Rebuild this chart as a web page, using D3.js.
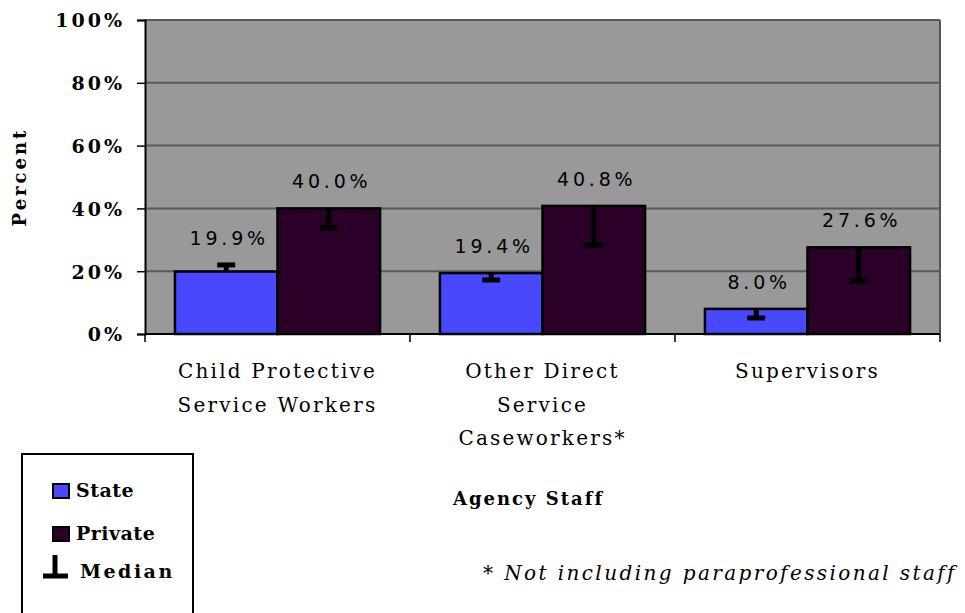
<!DOCTYPE html>
<meta charset="utf-8">
<style>
body { margin: 0; background: #fff; }
svg { display: block; }
text { fill: #000; }
.tick text { font-family: "DejaVu Serif", serif; font-weight: bold; font-size: 19px; letter-spacing: 3px; }
.grid line { stroke: #5a5a5a; stroke-width: 2; }
.val { font-family: "DejaVu Sans", sans-serif; font-size: 19px; letter-spacing: 3.8px; }
.cat { font-family: "DejaVu Serif", serif; font-size: 20px; letter-spacing: 2.2px; }
.leg { font-family: "DejaVu Serif", serif; font-weight: bold; font-size: 19px; }
</style>
<body>
<script src="https://d3js.org/d3.v7.min.js"></script>
<script>
// chart data
var categories = ["Child Protective Service Workers", "Other Direct Service Caseworkers*", "Supervisors"];
var categoryLines = [["Child Protective", "Service Workers"], ["Other Direct", "Service", "Caseworkers*"], ["Supervisors"]];
var series = ["State", "Private"];
var stateValues = [19.9, 19.4, 8.0];
var privateValues = [40.0, 40.8, 27.6];
var stateMedians = [22.0, 17.2, 5.1];
var privateMedians = [33.8, 28.3, 16.9];
var yTicks = [0, 20, 40, 60, 80, 100];

var colors = {State: "#4848ff", Private: "#2a0028"};

var W = 965, H = 613;
var plot = {left: 145, right: 940, top: 20, bottom: 334};

var svg = d3.select("body").append("svg")
    .attr("width", W)
    .attr("height", H);

var x0 = d3.scaleBand()
    .domain(categories)
    .range([plot.left, plot.right])
    .paddingInner(0.226)
    .paddingOuter(0.113);

var x1 = d3.scaleBand()
    .domain(series)
    .range([0, x0.bandwidth()]);

var y = d3.scaleLinear().domain([0, 100]).range([plot.bottom, plot.top]);

// plot background
svg.append("rect")
    .attr("x", plot.left).attr("y", plot.top)
    .attr("width", plot.right - plot.left).attr("height", plot.bottom - plot.top)
    .attr("fill", "#999999");

// gridlines
svg.append("g").attr("class", "grid")
    .selectAll("line")
    .data(yTicks.filter(function(d) { return d > 0; }))
    .enter().append("line")
    .attr("x1", plot.left).attr("x2", plot.right)
    .attr("y1", function(d) { return y(d); })
    .attr("y2", function(d) { return y(d); });

// right border
svg.append("line")
    .attr("x1", plot.right).attr("x2", plot.right)
    .attr("y1", plot.top).attr("y2", plot.bottom)
    .attr("stroke", "#555").attr("stroke-width", 2);

// bars
var rows = categories.map(function(c, i) {
    return [
        {cat: c, key: "State", value: stateValues[i], median: stateMedians[i]},
        {cat: c, key: "Private", value: privateValues[i], median: privateMedians[i]}
    ];
});
var flat = [].concat.apply([], rows);

svg.append("g").selectAll("rect")
    .data(flat)
    .enter().append("rect")
    .attr("x", function(d) { return x0(d.cat) + x1(d.key); })
    .attr("y", function(d) { return y(d.value); })
    .attr("width", x1.bandwidth())
    .attr("height", function(d) { return y(0) - y(d.value); })
    .attr("fill", function(d) { return colors[d.key]; })
    .attr("stroke", "#000")
    .attr("stroke-width", 2.5);

// median markers
var med = svg.append("g").selectAll("g")
    .data(flat)
    .enter().append("g");
med.append("line")
    .attr("x1", function(d) { return x0(d.cat) + x1(d.key) + x1.bandwidth() / 2; })
    .attr("x2", function(d) { return x0(d.cat) + x1(d.key) + x1.bandwidth() / 2; })
    .attr("y1", function(d) { return y(d.value); })
    .attr("y2", function(d) { return y(d.median); })
    .attr("stroke", "#000").attr("stroke-width", 5);
med.append("line")
    .attr("x1", function(d) { return x0(d.cat) + x1(d.key) + x1.bandwidth() / 2 - 9; })
    .attr("x2", function(d) { return x0(d.cat) + x1(d.key) + x1.bandwidth() / 2 + 9; })
    .attr("y1", function(d) { return y(d.median); })
    .attr("y2", function(d) { return y(d.median); })
    .attr("stroke", "#000").attr("stroke-width", 5);

// value labels
svg.append("g").selectAll("text")
    .data(flat)
    .enter().append("text")
    .attr("class", "val")
    .attr("x", function(d) { return x0(d.cat) + x1(d.key) + x1.bandwidth() / 2 + 3; })
    .attr("y", function(d) { return y(Math.max(d.value, d.median)) - 20; })
    .attr("text-anchor", "middle")
    .text(function(d) { return d.value.toFixed(1) + "%"; });

// y axis
var yAxis = svg.append("g")
    .attr("transform", "translate(" + plot.left + ",0)")
    .call(d3.axisLeft(y).tickValues(yTicks).tickFormat(function(d) { return d + "%"; }).tickSize(8).tickPadding(12));
yAxis.select(".domain").attr("stroke", "#000").attr("stroke-width", 2);
yAxis.selectAll(".tick line").attr("stroke", "#000").attr("stroke-width", 1.5);
yAxis.selectAll(".tick text").attr("dy", "0.36em");

// x axis line + boundary ticks
svg.append("line")
    .attr("x1", plot.left).attr("x2", plot.right)
    .attr("y1", plot.bottom).attr("y2", plot.bottom)
    .attr("stroke", "#000").attr("stroke-width", 2);
var step = x0.step();
var bounds = [plot.left].concat(categories.map(function(c) { return x0(c) + x0.bandwidth() + step * x0.paddingInner() / 2; }));
bounds[bounds.length - 1] = plot.right;
svg.append("g").selectAll("line")
    .data(bounds)
    .enter().append("line")
    .attr("x1", function(d) { return d; }).attr("x2", function(d) { return d; })
    .attr("y1", plot.bottom).attr("y2", plot.bottom + 8)
    .attr("stroke", "#000").attr("stroke-width", 1.5);

// category labels
var cat = svg.append("g").selectAll("text")
    .data(categories)
    .enter().append("text")
    .attr("class", "cat")
    .attr("text-anchor", "middle")
    .attr("x", function(d) { return x0(d) + x0.bandwidth() / 2; })
    .attr("y", 378);
cat.selectAll("tspan")
    .data(function(d, i) { return categoryLines[i]; })
    .enter().append("tspan")
    .attr("x", function() { return d3.select(this.parentNode).attr("x"); })
    .attr("dy", function(d, i) { return i === 0 ? 0 : 33.5; })
    .text(function(d) { return d; });

// axis titles
svg.append("text")
    .attr("transform", "translate(26,177) rotate(-90)")
    .attr("text-anchor", "middle")
    .style("font-family", "DejaVu Serif, serif")
    .style("font-weight", "bold")
    .style("font-size", "18px")
    .style("letter-spacing", "3px")
    .text("Percent");

svg.append("text")
    .attr("x", 453).attr("y", 505)
    .style("font-family", "DejaVu Serif, serif")
    .style("font-weight", "bold")
    .style("font-size", "18px")
    .style("letter-spacing", "2px")
    .text("Agency Staff");

svg.append("text")
    .attr("x", 483).attr("y", 580)
    .style("font-family", "DejaVu Serif, serif")
    .style("font-style", "italic")
    .style("font-size", "20px")
    .style("letter-spacing", "2.4px")
    .text("* Not including paraprofessional staff");

// legend
var leg = svg.append("g");
leg.append("rect")
    .attr("x", 22).attr("y", 454).attr("width", 171).attr("height", 170)
    .attr("fill", "#fff").attr("stroke", "#000").attr("stroke-width", 2);
var legItems = [{key: "State", y: 491}, {key: "Private", y: 534}];
legItems.forEach(function(it) {
    leg.append("rect")
        .attr("x", 53).attr("y", it.y - 7).attr("width", 16).attr("height", 14)
        .attr("fill", colors[it.key]).attr("stroke", "#000").attr("stroke-width", 2);
    leg.append("text").attr("class", "leg")
        .attr("x", 76).attr("y", it.y + 6)
        .style("letter-spacing", "0.5px")
        .text(it.key);
});
leg.append("line").attr("x1", 55).attr("x2", 55).attr("y1", 555).attr("y2", 577)
    .attr("stroke", "#000").attr("stroke-width", 5);
leg.append("line").attr("x1", 43).attr("x2", 68).attr("y1", 576).attr("y2", 576)
    .attr("stroke", "#000").attr("stroke-width", 5);
leg.append("text").attr("class", "leg")
    .attr("x", 80).attr("y", 578)
    .style("letter-spacing", "2.5px")
    .text("Median");
</script>
</body>
